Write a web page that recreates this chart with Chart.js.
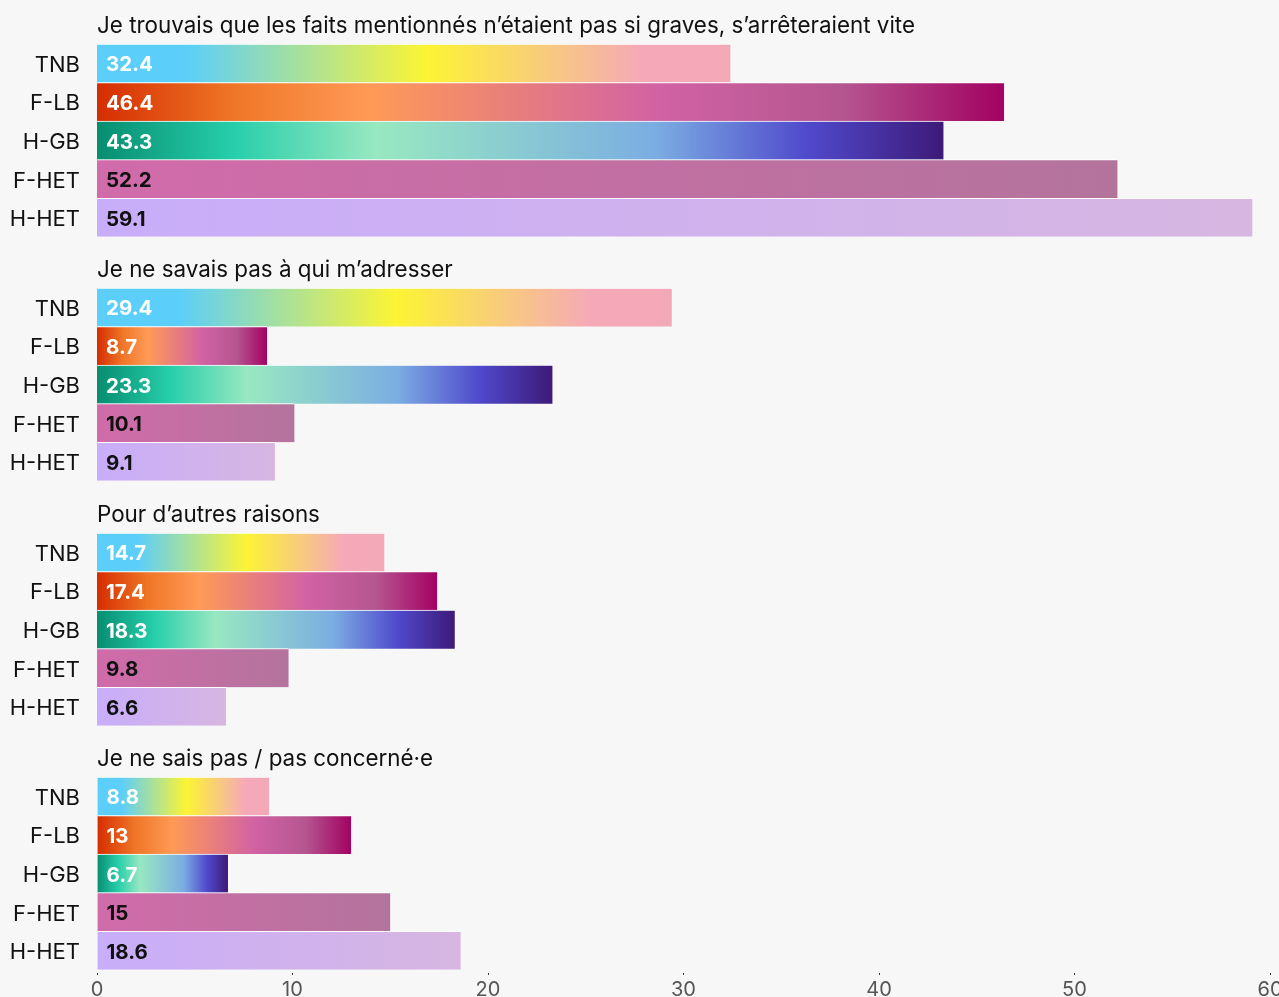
<!DOCTYPE html>
<html>
<head>
<meta charset="utf-8">
<script src="https://cdn.jsdelivr.net/npm/chart.js@4.4.1/dist/chart.umd.min.js"></script>
<style>
html,body{margin:0;padding:0;background:#f7f7f7;overflow:hidden;width:1279px;height:997px;}
.g{position:absolute;left:0;}
canvas{display:block;}
</style>
</head>
<body>
<div class="g" style="top:0px"><canvas id="c0" width="1290" height="267"></canvas></div>
<div class="g" style="top:244px"><canvas id="c1" width="1290" height="267"></canvas></div>
<div class="g" style="top:489px"><canvas id="c2" width="1290" height="267"></canvas></div>
<div class="g" style="top:733px"><canvas id="c3" width="1290" height="267"></canvas></div>
<script>
// ---- data ----
const groupTitles = [
  "Je trouvais que les faits mentionnés n’étaient pas si graves, s’arrêteraient vite",
  "Je ne savais pas à qui m’adresser",
  "Pour d’autres raisons",
  "Je ne sais pas / pas concerné·e"
];
const categories = ["TNB", "F-LB", "H-GB", "F-HET", "H-HET"];
const faitsPasGraves = [32.4, 46.4, 43.3, 52.2, 59.1];
const savaisPasQui = [29.4, 8.7, 23.3, 10.1, 9.1];
const autresRaisons = [14.7, 17.4, 18.3, 9.8, 6.6];
const neSaisPas = [8.8, 13, 6.7, 15, 18.6];
const xTicks = [0, 10, 20, 30, 40, 50, 60];
const groupValues = [faitsPasGraves, savaisPasQui, autresRaisons, neSaisPas];

// ---- styles ----
const FONT = "Inter, 'Noto Sans', sans-serif";
const gradStops = [
  [[0,'#5BCEFA'],[0.14,'#5BCEFA'],[0.52,'#FCF434'],[0.86,'#F5A9B8'],[1,'#F3A8B8']],
  [[0,'#D52D00'],[0.15,'#EF7627'],[0.3,'#FF9A56'],[0.62,'#D162A4'],[0.82,'#B55690'],[1,'#A30262']],
  [[0,'#078D70'],[0.16,'#26CEAA'],[0.33,'#98E8C1'],[0.66,'#7BADE2'],[0.84,'#5049CC'],[1,'#3D1A78']],
  [[0,'#D16BAA'],[1,'#B3749C']],
  [[0,'#C8ADFA'],[1,'#D7B6E1']]
];
const valueColors = ['#ffffff','#ffffff','#ffffff','#111111','#111111'];

function barGradient(c) {
  const stops = gradStops[c.dataIndex] || gradStops[0];
  const chart = c.chart;
  const xs = chart.scales && chart.scales.x;
  if (c.type !== 'data' || !xs || !chart.chartArea) return stops[0][1];
  const x0 = xs.getPixelForValue(0);
  const x1 = xs.getPixelForValue(c.raw);
  if (!isFinite(x0) || !isFinite(x1) || x1 - x0 < 1) return stops[0][1];
  const g = chart.ctx.createLinearGradient(x0, 0, x1, 0);
  stops.forEach(s => g.addColorStop(s[0], s[1]));
  return g;
}

const titlePlugin = {
  id: 'groupTitle',
  afterDraw(chart, args, opts) {
    const ctx = chart.ctx;
    ctx.save();
    ctx.font = '22.4px ' + FONT;
    ctx.fillStyle = '#111';
    ctx.textAlign = 'left';
    ctx.textBaseline = 'alphabetic';
    ctx.fillText(opts.text, chart.chartArea.left, chart.chartArea.top - 11);
    ctx.restore();
  }
};
const valuePlugin = {
  id: 'barValues',
  afterDatasetsDraw(chart) {
    const ctx = chart.ctx;
    const meta = chart.getDatasetMeta(0);
    const vals = chart.data.datasets[0].data;
    ctx.save();
    ctx.font = '700 20.5px ' + FONT;
    ctx.textAlign = 'left';
    ctx.textBaseline = 'middle';
    meta.data.forEach((bar, i) => {
      ctx.fillStyle = valueColors[i];
      ctx.fillText(String(vals[i]), bar.base + 9, bar.y + 2);
    });
    ctx.restore();
  }
};

groupValues.forEach((vals, gi) => {
  const last = gi === groupValues.length - 1;
  new Chart(document.getElementById('c' + gi), {
    type: 'bar',
    data: {
      labels: categories,
      datasets: [{
        data: vals,
        backgroundColor: barGradient,
        borderColor: '#ffffff',
        borderWidth: {top: 1, right: 0, bottom: 0, left: 0},
        borderSkipped: false,
        categoryPercentage: 1,
        barPercentage: 1
      }]
    },
    plugins: [titlePlugin, valuePlugin],
    options: {
      indexAxis: 'y',
      responsive: false,
      animation: false,
      events: [],
      layout: {padding: {top: 44, right: 20, left: 0, bottom: 0}},
      plugins: {
        legend: {display: false},
        tooltip: {enabled: false},
        title: {display: false},
        groupTitle: {text: groupTitles[gi]}
      },
      scales: {
        x: {
          type: 'linear',
          min: xTicks[0],
          max: xTicks[xTicks.length - 1],
          display: true,
          afterBuildTicks: s => { s.ticks = xTicks.map(v => ({value: v})); },
          afterFit: s => { s.height = 30; },
          ticks: {display: last, color: '#555', font: {family: FONT, size: 20}, padding: 3, maxRotation: 0},
          grid: {display: last, drawOnChartArea: false, drawTicks: true, tickLength: 5, color: '#222', tickBorderDash: [0, 3, 2, 20]},
          border: {display: false}
        },
        y: {
          afterFit: s => { s.width = 97; },
          ticks: {color: '#111', font: {family: FONT, size: 22}, padding: 17, labelOffset: 2},
          grid: {display: false, drawTicks: false},
          border: {display: false}
        }
      }
    }
  });
});
</script>
</body>
</html>
